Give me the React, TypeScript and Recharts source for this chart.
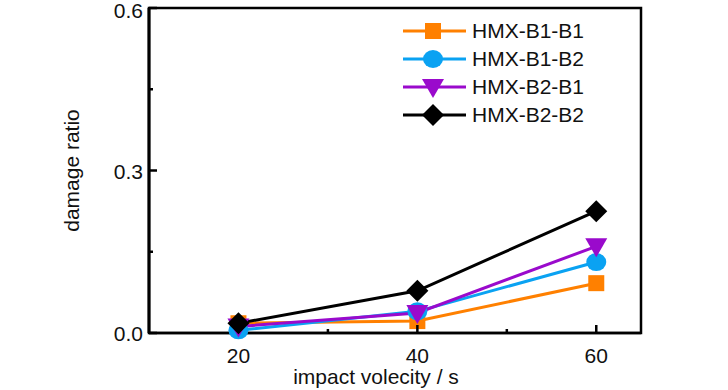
import React from "react";
import { Label, Line, LineChart, ReferenceArea, XAxis, YAxis } from "recharts";

const velocities = [20, 40, 60];
const seriesB1B1 = [0.018, 0.022, 0.092];
const seriesB1B2 = [0.005, 0.04, 0.131];
const seriesB2B1 = [0.012, 0.037, 0.16];
const seriesB2B2 = [0.018, 0.078, 0.225];
const xTicks = [20, 30, 40, 50, 60];
const xMajor = [20, 40, 60];
const yTicks = [0, 0.15, 0.3, 0.45, 0.6];
const yMajor = [0, 0.3, 0.6];

const series = [
  { key: "b1b1", name: "HMX-B1-B1", color: "#FF8000", shape: "square" },
  { key: "b1b2", name: "HMX-B1-B2", color: "#0AA2F2", shape: "circle" },
  { key: "b2b1", name: "HMX-B2-B1", color: "#9A0ACC", shape: "triangle" },
  { key: "b2b2", name: "HMX-B2-B2", color: "#000000", shape: "diamond" },
];

const data = velocities.map((v, i) => ({
  v,
  b1b1: seriesB1B1[i],
  b1b2: seriesB1B2[i],
  b2b1: seriesB2B1[i],
  b2b2: seriesB2B2[i],
}));

const font = "'Liberation Sans', Arial, sans-serif";

function markerPath(shape: string, cx: number, cy: number, color: string) {
  if (shape === "square") return <rect x={cx - 8} y={cy - 8} width={16} height={16} fill={color} />;
  if (shape === "circle") return <ellipse cx={cx} cy={cy} rx={10} ry={9} fill={color} />;
  if (shape === "triangle")
    return <polygon points={`${cx - 11},${cy - 8} ${cx + 11},${cy - 8} ${cx},${cy + 11}`} fill={color} />;
  return <polygon points={`${cx},${cy - 11} ${cx + 11},${cy} ${cx},${cy + 11} ${cx - 11},${cy}`} fill={color} />;
}

const makeDot = (shape: string, color: string) => (props: any) => {
  const { cx, cy, index } = props;
  return <g key={`${shape}-${index}`}>{markerPath(shape, cx, cy, color)}</g>;
};

const XTick = (props: any) => {
  const { x, y, payload } = props;
  const major = xMajor.includes(payload.value);
  return (
    <g>
      <line x1={x} x2={x} y1={y} y2={y - (major ? 8 : 4)} stroke="#000" strokeWidth={2.5} />
      {major && (
        <text x={x} y={y + 30} textAnchor="middle" fontSize={21} fontFamily={font} fill="#111">
          {payload.value}
        </text>
      )}
    </g>
  );
};

const YTick = (props: any) => {
  const { x, y, payload } = props;
  const major = yMajor.includes(payload.value);
  return (
    <g>
      <line x1={x} x2={x + (major ? 8 : 4)} y1={y} y2={y} stroke="#000" strokeWidth={2.5} />
      {major && (
        <text x={x - 6} y={Math.max(y + 8, 18)} textAnchor="end" fontSize={21} fontFamily={font} fill="#111">
          {payload.value.toFixed(1)}
        </text>
      )}
    </g>
  );
};

const LegendBox = () => (
  <div style={{ position: "absolute", left: 400, top: 17, fontFamily: font, fontSize: 21, color: "#111" }}>
    {series.map((s) => (
      <div key={s.key} style={{ display: "flex", alignItems: "center", height: 28 }}>
        <svg width={70} height={28}>
          <line x1={3} x2={66} y1={14} y2={14} stroke={s.color} strokeWidth={3} />
          {markerPath(s.shape, 33, 14, s.color)}
        </svg>
        <span style={{ marginLeft: 2 }}>{s.name}</span>
      </div>
    ))}
  </div>
);

export default function App() {
  return (
    <div style={{ position: "absolute", left: 0, top: 0, width: 728, height: 390, background: "#fff" }}>
      <LineChart width={728} height={390} data={data} margin={{ top: 8, right: 87, bottom: 0, left: 29 }}>
        <ReferenceArea x1={10} x2={65} y1={0} y2={0.6} fill="none" stroke="#000" strokeWidth={2.5} ifOverflow="visible" />
        <XAxis
          dataKey="v"
          type="number"
          domain={[10, 65]}
          ticks={xTicks}
          interval={0}
          height={57}
          tickLine={false}
          tickSize={0}
          tickMargin={0}
          tick={<XTick />}
          axisLine={{ stroke: "#000", strokeWidth: 2.5 }}
        >
          <Label value="impact volecity / s" position="insideBottom" offset={6} dx={-19} fontSize={21} fontFamily={font} fill="#111" />
        </XAxis>
        <YAxis
          type="number"
          domain={[0, 0.6]}
          ticks={yTicks}
          interval={0}
          width={120}
          tickLine={false}
          tickSize={0}
          tickMargin={0}
          tick={<YTick />}
          axisLine={{ stroke: "#000", strokeWidth: 3 }}
        >
          <Label value="damage ratio" angle={-90} position="insideLeft" offset={43} fontSize={21} fontFamily={font} fill="#111" style={{ textAnchor: "middle" }} />
        </YAxis>
        {series.map((s) => (
          <Line
            key={s.key}
            dataKey={s.key}
            name={s.name}
            stroke={s.color}
            strokeWidth={3}
            dot={makeDot(s.shape, s.color)}
            activeDot={false}
            isAnimationActive={false}
          />
        ))}
      </LineChart>
      <LegendBox />
    </div>
  );
}
